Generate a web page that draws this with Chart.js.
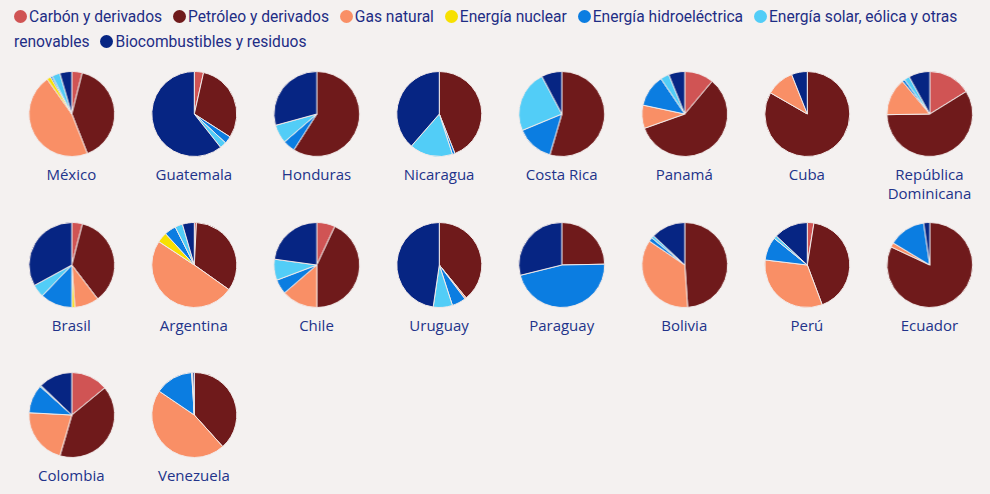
<!DOCTYPE html>
<html lang="es">
<head>
    <meta charset="UTF-8">
    <title>Matriz energética por país</title>
    <script src="https://cdn.jsdelivr.net/npm/chart.js"></script>
    <style>
        body {
            margin: 0;
            background: #f4f1f0;
            font-family: Roboto, Arial, sans-serif;
            color: #1e2d85;
            width: 990px;
            height: 494px;
            overflow: hidden;
        }
        #legend {
            padding: 5px 10px 0 14px;
            font-size: 15.6px;
            line-height: 25px;
        }
        .item { margin-right: 7px; }
        .dot {
            display: inline-block;
            width: 13px;
            height: 13px;
            border-radius: 50%;
            margin-right: 2px;
            vertical-align: -1px;
        }
        #grid {
            position: absolute;
            left: 10px;
            top: 71px;
            width: 981px;
            display: grid;
            grid-template-columns: repeat(8, 122.6px);
            grid-auto-rows: 150.5px;
        }
        .cell { text-align: center; min-width: 0; }
        .pie { position: relative; width: 122.6px; height: 86px; }
        .name {
            font-family: "Open Sans", sans-serif;
            font-weight: 500;
            font-size: 15px;
            line-height: 19px;
            margin-top: 8px;
            color: #22338a;
        }
    </style>
</head>
<body>

    <div id="legend"></div>
    <div id="grid"></div>

    <script>
    // países, en el orden de la cuadrícula
    const countries = ['México', 'Guatemala', 'Honduras', 'Nicaragua', 'Costa Rica', 'Panamá', 'Cuba', 'República Dominicana',
                       'Brasil', 'Argentina', 'Chile', 'Uruguay', 'Paraguay', 'Bolivia', 'Perú', 'Ecuador',
                       'Colombia', 'Venezuela'];

    const sources = ['Carbón y derivados', 'Petróleo y derivados', 'Gas natural', 'Energía nuclear',
                     'Energía hidroeléctrica', 'Energía solar, eólica y otras renovables', 'Biocombustibles y residuos'];
    const colors = ['#d05454', '#6f1a1b', '#f98f66', '#f7e000', '#0b7de1', '#52cdf7', '#062583'];

    // % de la oferta de energía
    const carbon    = [3.9, 3.5, 0, 0, 0, 11, 0, 16.1, 4, 0.8, 6.9, 0, 0, 0, 2.5, 0, 14, 0];
    const petroleo  = [40, 30.5, 59, 44, 54.5, 58.4, 83.3, 58.5, 35.7, 34, 43.1, 39.1, 24.7, 49, 41.8, 82, 40.6, 38.3];
    const gas       = [46, 0, 0, 0, 0, 8.8, 10.7, 14.2, 9.2, 49.4, 13.6, 0.6, 0, 35.6, 32.6, 1.7, 21.4, 46.1];
    const nuclear   = [1.5, 0, 0, 0, 0, 0, 0, 0, 1.1, 3.9, 0, 0, 0, 0, 0, 0, 0, 0];
    const hidro     = [0.7, 2.8, 4.6, 1, 14.2, 12.2, 0, 1, 12.1, 4.4, 5.6, 5.3, 46.4, 1.5, 8.9, 14, 10.9, 14.5];
    const solar     = [3, 2.5, 7.1, 16.4, 23.6, 3.3, 0, 2, 4.9, 2.9, 8, 7.3, 0, 1, 1.2, 0, 0.5, 0.4];
    const biocomb   = [4.5, 60.5, 29.3, 38.6, 7.7, 6.1, 6, 8, 33, 4.5, 22.8, 47.7, 28.9, 13, 13, 2.3, 12.8, 0.6];

    const series = [carbon, petroleo, gas, nuclear, hidro, solar, biocomb];

    // leyenda
    const legend = document.getElementById('legend');
    sources.forEach((s, i) => {
        legend.innerHTML += `<span class="item"><span class="dot" style="background:${colors[i]}"></span>${s}</span> `;
    });

    // una torta por país
    const grid = document.getElementById('grid');
    countries.forEach((c, k) => {
        const cell = document.createElement('div');
        cell.className = 'cell';
        cell.innerHTML = `<div class="pie"><canvas></canvas></div><div class="name">${c.replace('República ', 'República<br>')}</div>`;
        grid.appendChild(cell);

        new Chart(cell.querySelector('canvas'), {
            type: 'pie',
            data: {
                labels: sources,
                datasets: [{
                    data: series.map(arr => arr[k]),
                    backgroundColor: colors,
                    borderColor: '#f1e9e8',
                    borderWidth: 1
                }]
            },
            options: {
                responsive: true,
                maintainAspectRatio: false,
                animation: false,
                plugins: { legend: { display: false } }
            }
        });
    });
    </script>

</body></html>
